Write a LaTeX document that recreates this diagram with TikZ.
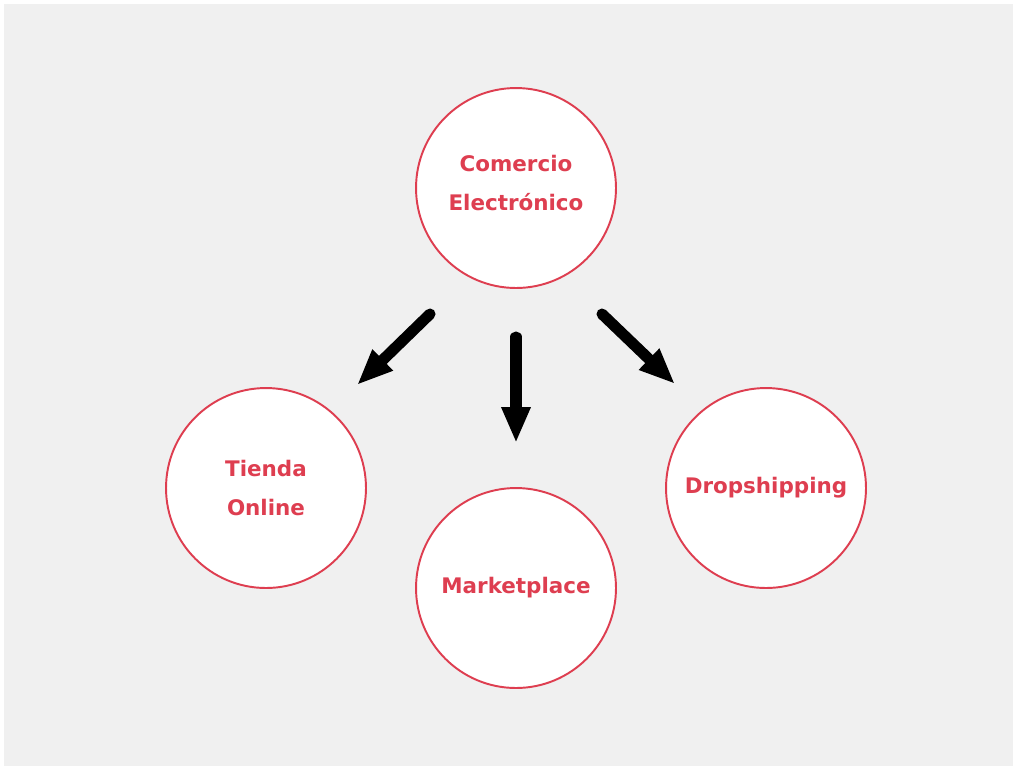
\documentclass[tikz,border=0pt]{standalone}
\usepackage{fontspec}
\setmainfont{DejaVu Sans}
\usetikzlibrary{arrows.meta}
\definecolor{rosered}{RGB}{222,62,80}
\definecolor{bggray}{RGB}{240,240,240}
\begin{document}
\begin{tikzpicture}[
    x=0.02cm, y=-0.02cm,
    topic/.style={%
        circle, draw=rosered, line width=1.1pt, fill=white,
        minimum size=4cm, inner sep=0pt,
        align=center, text=rosered,
        font=\bfseries\fontsize{12.2}{22.5}\selectfont},
    bigarrow/.style={%
        line width=6.3pt, line cap=round,
        -{Triangle[length=0.72cm,width=0.54cm]}},
]
    % Background
    \fill[white] (0,0) rectangle (1016,769);
    \useasboundingbox (0,0) rectangle (1016,769);
    \fill[bggray] (4,4) rectangle (1013,766);
    % Main topic
    \node[topic] (comercio) at (516,188) {};
    \node[text=rosered, align=center, font=\bfseries\fontsize{12.2}{22.5}\selectfont]
        (comercio-text) at (516,183) {Comercio\\Electrónico};
    % Types
    \node[topic] (tienda) at (266,488) {Tienda\\Online};
    \node[topic] (market) at (516,588) {Marketplace};
    \node[topic] (drop) at (766,488) {Dropshipping};
    % Arrow ends
    \coordinate (tienda-start) at (430,314);
    \coordinate (tienda-end) at (357,385);
    \coordinate (market-start) at (516,337);
    \coordinate (market-end) at (516,443);
    \coordinate (drop-start) at (602,314);
    \coordinate (drop-end) at (675,384);
    % Arrows
    \draw[bigarrow] (tienda-start) -- (tienda-end);
    \draw[bigarrow] (market-start) -- (market-end);
    \draw[bigarrow] (drop-start) -- (drop-end);
\end{tikzpicture}
\end{document}
